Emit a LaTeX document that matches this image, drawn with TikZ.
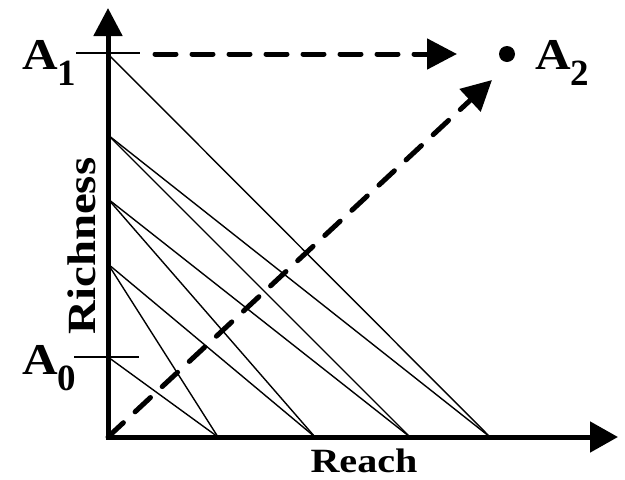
\documentclass[tikz,border=0pt]{standalone}
\usepackage{fontspec}
\setmainfont{Liberation Serif}
\usetikzlibrary{arrows.meta}
\newcommand{\Alab}[1]{\scalebox{1.12}[1]{\fontsize{44}{44}\selectfont A}\raisebox{-16pt}{\fontsize{37}{37}\selectfont #1}}
\begin{document}
\begin{tikzpicture}[x=1pt,y=-1pt,
  axisline/.style={line width=5pt, line join=miter, {Triangle[length=28pt,width=28pt]}-{Triangle[length=28pt,width=30pt]}},
  thinline/.style={line width=1.4pt},
  dasharrow/.style={line width=5pt, line cap=round, dash pattern=on 21pt off 16pt, -{Triangle[length=30pt,width=30pt]}},
  lab/.style={inner sep=0pt, text depth=0pt, font=\bfseries}]
\useasboundingbox (0,0) rectangle (625,480);
% axes
\coordinate (O) at (108,437);
\coordinate (ytop) at (108,8);
\coordinate (xend) at (618,437);
% points on the Richness axis
\coordinate (a1) at (108,54);
\coordinate (r2) at (108,135);
\coordinate (r3) at (108,199);
\coordinate (r4) at (108,264);
\coordinate (a0) at (108,357);
% points on the Reach axis
\coordinate (c1) at (218,437);
\coordinate (c2) at (315,437);
\coordinate (c3) at (410,437);
\coordinate (c4) at (490,437);
% ticks
\coordinate (t1l) at (76,53);
\coordinate (t1r) at (140,53);
\coordinate (t0l) at (74,357);
\coordinate (t0r) at (139,357);
% trade-off lines
\draw[thinline] (a1) -- (c4);
\draw[thinline] (r2) -- (c4);
\draw[thinline] (r2) -- (c3);
\draw[thinline] (r3) -- (c3);
\draw[thinline] (r3) -- (c2);
\draw[thinline] (r4) -- (c2);
\draw[thinline] (r4) -- (c1);
\draw[thinline] (a0) -- (c1);
\draw[thinline] (t1l) -- (t1r);
\draw[thinline] (t0l) -- (t0r);
\draw[axisline] (ytop) -- (O) -- (xend);
% A2 point
\node[circle, fill=black, minimum size=16pt, inner sep=0pt] (dot) at (507,54) {};
\coordinate (hs) at (155,54);
\coordinate (he) at (457,54);
\coordinate (de) at (492,80);
\draw[dasharrow] (hs) -- (he);
\draw[dasharrow] (O) -- (de);
% labels
\node[lab, anchor=base west] (A1) at (22,69) {\Alab{1}};
\node[lab, anchor=base west] (A0) at (22,374) {\Alab{0}};
\node[lab, anchor=base west] (A2) at (535,69) {\Alab{2}};
\node[lab, anchor=base] (reach) at (364,472) {\scalebox{1.18}[1]{\fontsize{34}{34}\selectfont Reach}};
\node[lab, anchor=base, rotate=90] (rich) at (95,246) {\scalebox{1.17}[1]{\fontsize{40}{40}\selectfont Richness}};
\end{tikzpicture}
\end{document}
